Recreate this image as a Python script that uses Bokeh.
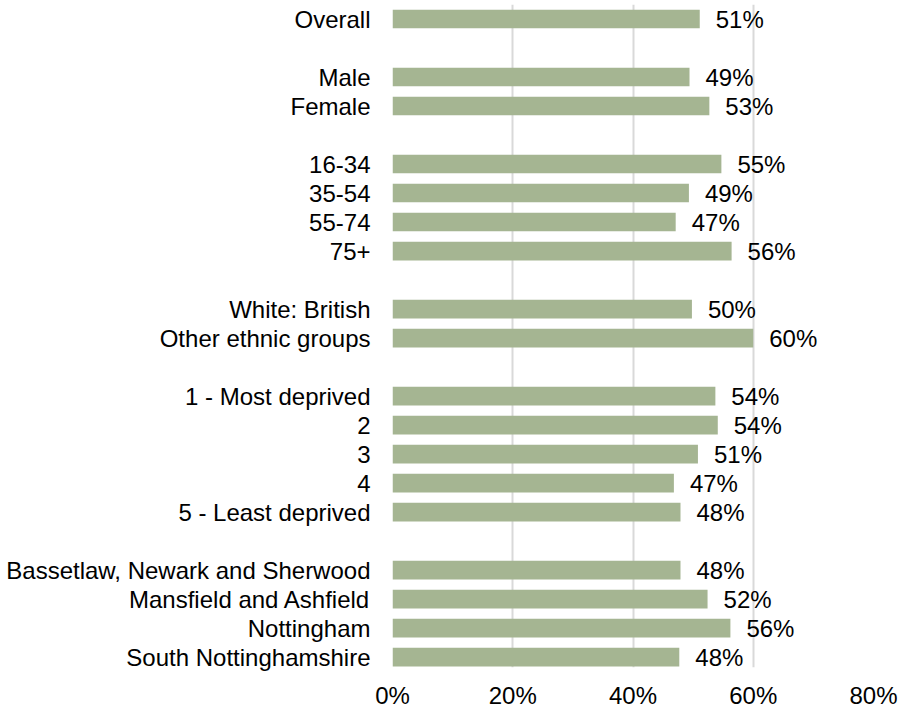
from bokeh.plotting import figure
from bokeh.models import Range1d, FixedTicker, NumeralTickFormatter, ColumnDataSource
from bokeh.core.properties import value
from bokeh.embed import file_html
from bokeh.resources import INLINE

categories = ["Overall", "Male", "Female", "16-34", "35-54", "55-74", "75+",
              "White: British", "Other ethnic groups",
              "1 - Most deprived", "2", "3", "4", "5 - Least deprived",
              "Bassetlaw, Newark and Sherwood", "Mansfield and Ashfield",
              "Nottingham", "South Nottinghamshire"]
values = [51.1, 49.4, 52.7, 54.7, 49.3, 47.1, 56.4,
          49.8, 60.0,
          53.7, 54.1, 50.8, 46.8, 47.9,
          47.9, 52.4, 56.2, 47.7]
group = [0, 1, 1, 2, 2, 2, 2, 3, 3, 4, 4, 4, 4, 4, 5, 5, 5, 5]
x_ticks = [0, 0.2, 0.4, 0.6, 0.8]

FONT = "Liberation Sans"
FS = "24px"

ypos = [i + g for i, g in enumerate(group)]
src = ColumnDataSource(dict(
    y=ypos,
    v=[v / 100 for v in values],
    lab=[f"{round(v)}%" for v in values],
))

p = figure(width=898, height=711, output_backend="svg", toolbar_location=None,
           x_range=Range1d(0, 0.8), y_range=Range1d(22.36, -0.5),
           min_border_left=392, min_border_right=25, min_border_top=4,
           min_border_bottom=44)
p.outline_line_color = None
p.background_fill_color = "white"

p.hbar(y="y", right="v", left=0, height=0.645, source=src,
       fill_color="#A5B592", line_color=None)
p.text(x="v", y="y", text="lab", source=src, x_offset=16,
       text_baseline="middle", text_align="left",
       text_font=value(FONT), text_font_size=FS, text_color="#000000")

p.xaxis.ticker = FixedTicker(ticks=x_ticks)
p.xaxis.formatter = NumeralTickFormatter(format="0%")
p.xaxis.axis_line_color = None
p.xaxis.major_tick_line_color = None
p.xaxis.minor_tick_line_color = None
p.xaxis.major_label_text_font = FONT
p.xaxis.major_label_text_font_size = FS
p.xaxis.major_label_text_color = "#000000"
p.xaxis.major_label_standoff = 8

p.yaxis.ticker = FixedTicker(ticks=ypos)
p.yaxis.major_label_overrides = {y: c for y, c in zip(ypos, categories)}
p.yaxis.axis_line_color = None
p.yaxis.major_tick_line_color = None
p.yaxis.minor_tick_line_color = None
p.yaxis.major_label_text_font = FONT
p.yaxis.major_label_text_font_size = FS
p.yaxis.major_label_text_color = "#000000"
p.yaxis.major_label_standoff = 16

p.xgrid.ticker = FixedTicker(ticks=x_ticks)
p.xgrid.grid_line_color = "#D9D9D9"
p.xgrid.grid_line_width = 2
p.ygrid.grid_line_color = None

open("out.html", "w").write(file_html(p, INLINE))
